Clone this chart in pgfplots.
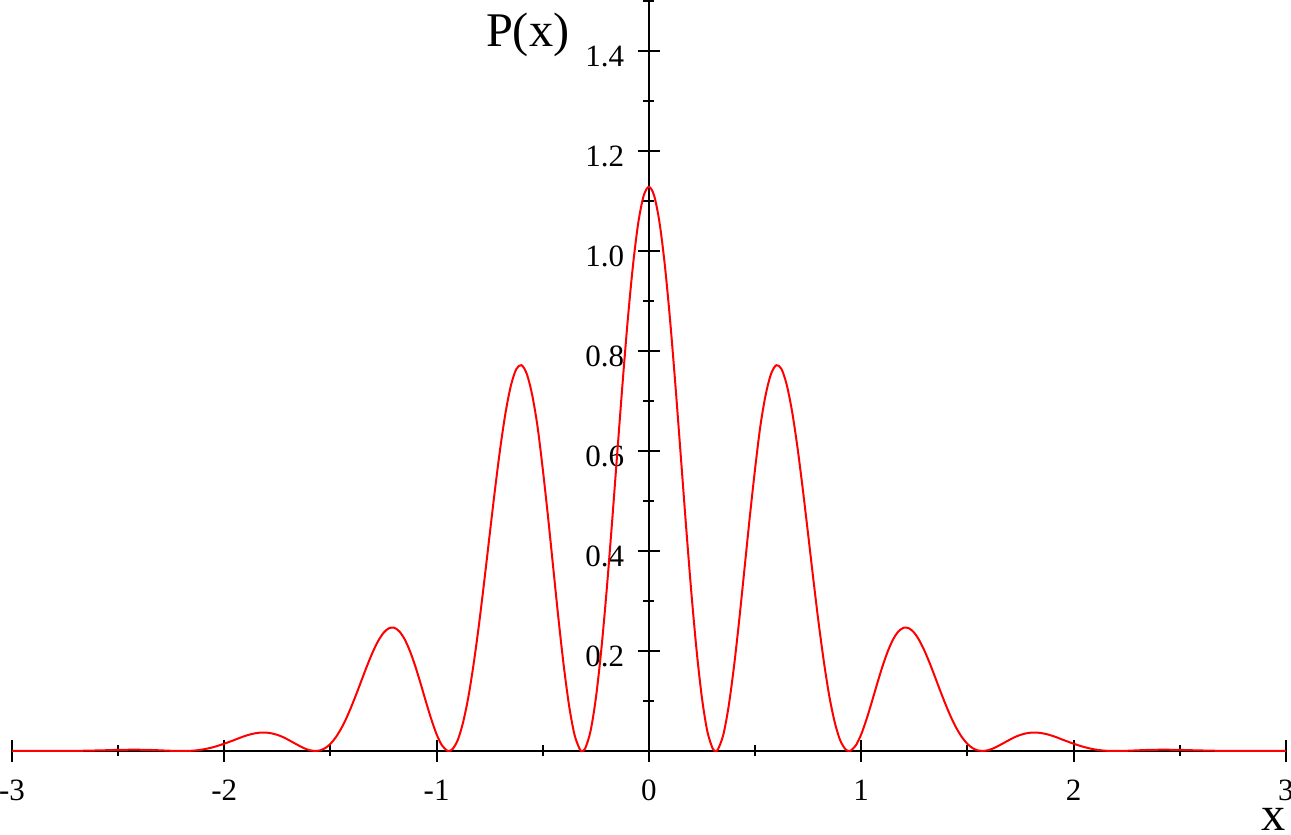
\documentclass[border=0pt]{standalone}
\usepackage{fontspec}
\setmainfont{Liberation Serif}
\usepackage{pgfplots}
\pgfplotsset{compat=1.18}
\begin{document}
\begin{tikzpicture}
\useasboundingbox (-3.6pt,-25.2pt) rectangle (383.7pt,225.3pt);
\begin{axis}[
  at={(0pt,0pt)}, anchor=south west,
  x=63.69pt, y=150pt,
  xmin=-3, xmax=3, ymin=0, ymax=1.5,
  enlargelimits=false, clip=false,
  axis lines=middle,
  axis line style={-, black, line width=0.6pt},
  every tick/.style={black, line width=0.6pt},
  tick align=center,
  major tick length=6.6pt,
  minor tick length=3.3pt,
  hide obscured x ticks=false, hide obscured y ticks=false,
  xtick={-3,-2,-1,0,1,2,3},
  xticklabels={-3,-2,-1,0,1,2,3},
  minor xtick={-2.5,-1.5,-0.5,0.5,1.5,2.5},
  ytick={0,0.2,0.4,0.6,0.8,1.0,1.2,1.4},
  yticklabels={,0.2,0.4,0.6,0.8,1.0,1.2,1.4},
  minor ytick={0.1,0.3,0.5,0.7,0.9,1.1,1.3,1.5},
  tick label style={font=\fontsize{9.3}{11}\selectfont, inner sep=0pt},
  xticklabel style={anchor=base, yshift=-11.7pt},
  yticklabel style={anchor=base east, xshift=-3.9pt, yshift=-4.8pt},
  xlabel={x}, ylabel={P(x)},
  xlabel style={at={(axis cs:2.94,0)}, anchor=base, inner sep=0pt, yshift=-24.0pt, font=\fontsize{14.5}{17}\selectfont},
  ylabel style={at={(axis cs:-0.372,1.408)}, anchor=base east, inner sep=0pt, rotate=0, font=\fontsize{14.5}{17}\selectfont},
]
\addplot[red, line width=0.6pt, smooth, tension=0.5] coordinates {
(-3.00,0) (-2.90,0) (-2.80,0.0001) (-2.70,0.0003) (-2.65,0.0006) (-2.60,0.0011) (-2.55,0.0016)
(-2.50,0.0022) (-2.45,0.0025) (-2.40,0.0025) (-2.35,0.0021) (-2.30,0.0013) (-2.25,0.0004)
(-2.20,0) (-2.15,0.0006) (-2.10,0.0031) (-2.05,0.0079)
(-2.000,0.0146) (-1.975,0.0185) (-1.950,0.0224) (-1.925,0.0266) (-1.900,0.0304) (-1.875,0.0335)
(-1.850,0.0357) (-1.825,0.0369) (-1.800,0.0367) (-1.775,0.0351) (-1.750,0.0322) (-1.725,0.0281)
(-1.700,0.0227) (-1.675,0.0169) (-1.650,0.0111) (-1.625,0.0058) (-1.600,0.0018) (-1.5708,0)
(-1.550,0.0011) (-1.525,0.0057) (-1.500,0.0143) (-1.475,0.0273) (-1.450,0.0445) (-1.425,0.0657)
(-1.400,0.0904) (-1.375,0.1173) (-1.350,0.1454) (-1.325,0.1731) (-1.300,0.1986) (-1.275,0.2202)
(-1.250,0.2363) (-1.225,0.2454) (-1.200,0.2465) (-1.175,0.2390) (-1.150,0.2230) (-1.125,0.1992)
(-1.100,0.1690) (-1.075,0.1344) (-1.050,0.0982) (-1.025,0.0635) (-1.000,0.0334) (-0.975,0.0114)
(-0.950,0.0006) (-0.9425,0) (-0.925,0.0037) (-0.900,0.0223) (-0.875,0.0578) (-0.850,0.1090)
(-0.825,0.1759) (-0.800,0.2542) (-0.775,0.3416) (-0.750,0.4330) (-0.725,0.5229) (-0.700,0.6063)
(-0.675,0.6773) (-0.650,0.7309) (-0.625,0.7635) (-0.600,0.7716) (-0.575,0.7539) (-0.550,0.7124)
(-0.525,0.6500) (-0.500,0.5640) (-0.475,0.4674) (-0.450,0.3637) (-0.425,0.2605) (-0.400,0.1665)
(-0.375,0.0879) (-0.350,0.0317) (-0.325,0.0030) (-0.3142,0) (-0.300,0.0052) (-0.275,0.0396)
(-0.250,0.1054) (-0.225,0.1994) (-0.200,0.3165) (-0.175,0.4497) (-0.150,0.5907) (-0.125,0.7306)
(-0.100,0.8604) (-0.075,0.9716) (-0.050,1.0567) (-0.025,1.1101)
(0,1.1284)
(0.025,1.1101) (0.050,1.0567) (0.075,0.9716) (0.100,0.8604)
(0.125,0.7306) (0.150,0.5907) (0.175,0.4497) (0.200,0.3165) (0.225,0.1994) (0.250,0.1054)
(0.275,0.0396) (0.300,0.0052) (0.3142,0) (0.325,0.0030) (0.350,0.0317) (0.375,0.0879)
(0.400,0.1665) (0.425,0.2605) (0.450,0.3637) (0.475,0.4674) (0.500,0.5640) (0.525,0.6500)
(0.550,0.7124) (0.575,0.7539) (0.600,0.7716) (0.625,0.7635) (0.650,0.7309) (0.675,0.6773)
(0.700,0.6063) (0.725,0.5229) (0.750,0.4330) (0.775,0.3416) (0.800,0.2542) (0.825,0.1759)
(0.850,0.1090) (0.875,0.0578) (0.900,0.0223) (0.925,0.0037) (0.9425,0) (0.950,0.0006)
(0.975,0.0114) (1.000,0.0334) (1.025,0.0635) (1.050,0.0982) (1.075,0.1344) (1.100,0.1690)
(1.125,0.1992) (1.150,0.2230) (1.175,0.2390) (1.200,0.2465) (1.225,0.2454) (1.250,0.2363)
(1.275,0.2202) (1.300,0.1986) (1.325,0.1731) (1.350,0.1454) (1.375,0.1173) (1.400,0.0904)
(1.425,0.0657) (1.450,0.0445) (1.475,0.0273) (1.500,0.0143) (1.525,0.0057) (1.550,0.0011)
(1.5708,0) (1.600,0.0018) (1.625,0.0058) (1.650,0.0111) (1.675,0.0169) (1.700,0.0227)
(1.725,0.0281) (1.750,0.0322) (1.775,0.0351) (1.800,0.0367) (1.825,0.0369) (1.850,0.0357)
(1.875,0.0335) (1.900,0.0304) (1.925,0.0266) (1.950,0.0224) (1.975,0.0185) (2.000,0.0146)
(2.05,0.0079) (2.10,0.0031) (2.15,0.0006) (2.20,0) (2.25,0.0004)
(2.30,0.0013) (2.35,0.0021) (2.40,0.0025) (2.45,0.0025) (2.50,0.0022) (2.55,0.0016)
(2.60,0.0011) (2.65,0.0006) (2.70,0.0003) (2.80,0.0001) (2.90,0) (3.00,0)
};
\end{axis}
\end{tikzpicture}
\end{document}
